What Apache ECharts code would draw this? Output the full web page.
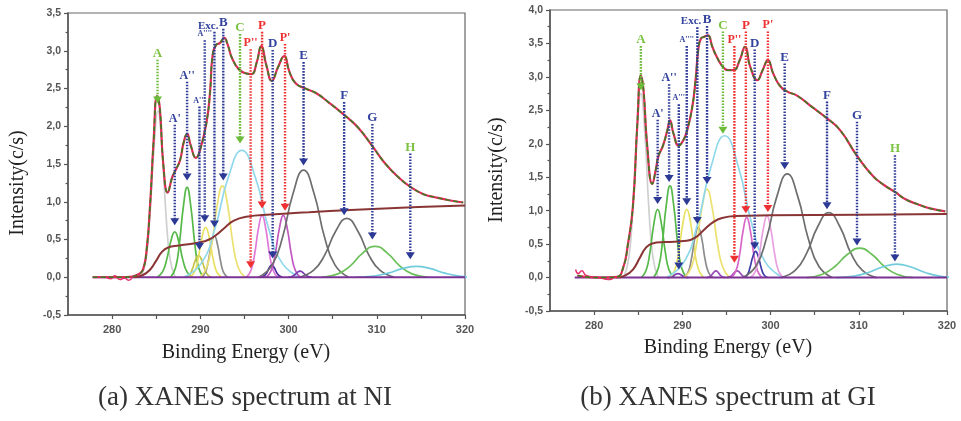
<!DOCTYPE html>
<html>
<head>
<meta charset="utf-8">
<script src="https://cdn.jsdelivr.net/npm/echarts@6.0.0/dist/echarts.min.js"></script>
<style>
  html, body { margin: 0; padding: 0; background: #fff; }
  #chart { width: 961px; height: 421px; }
</style>
</head>
<body>
<div id="chart"></div>
<script>
// axis ticks
const xTicks = [280, 285, 290, 295, 300, 305, 310, 315, 320];
const xLabels = [280, 290, 300, 310, 320];

// ---- (a) NI : measured spectrum, background step, noise
const niSpectrum = [[277.8,0],[279,0],[281,0],[282.3,0.01],[283,0.04],[283.5,0.1],[283.9,0.35],[284.3,0.95],[284.7,1.8],[285.1,2.4],[285.4,2.25],[285.8,1.5],[286.3,1.12],[286.8,1.32],[287.2,1.42],[287.7,1.55],[288.1,1.78],[288.5,1.9],[288.9,1.75],[289.5,1.58],[290.0,1.7],[290.7,2.05],[291.1,2.45],[291.4,2.95],[291.8,3.08],[292.2,3.1],[292.7,3.17],[293.1,3.08],[293.6,2.9],[294.4,2.75],[295.2,2.7],[295.8,2.69],[296.4,2.85],[296.9,3.06],[297.5,2.8],[298.1,2.6],[298.8,2.78],[299.5,2.93],[300.1,2.72],[300.8,2.57],[301.9,2.5],[303.1,2.44],[304.5,2.32],[306.4,2.14],[307.9,1.98],[309.6,1.72],[311.0,1.5],[312.5,1.32],[313.9,1.19],[315.3,1.1],[316.6,1.06],[318.2,1.02],[319.8,0.99]];
const niNoise = [[279.2,0.01],[279.8,-0.02],[280.3,0.02],[280.9,-0.03],[281.4,-0.01],[281.9,-0.04],[282.3,0]];
const niStep = [[282.5,0],[283.5,0.03],[284.3,0.1],[285.0,0.22],[285.6,0.33],[286.3,0.39],[287.6,0.42],[289.9,0.46],[291.0,0.5],[291.8,0.56],[292.8,0.66],[293.8,0.75],[295.2,0.8],[298,0.83],[302.3,0.86],[307,0.89],[314.7,0.93],[320,0.95]];

// (a) NI : fitted components
const niA   = [[283.25,0],[283.84,0.24],[284.29,0.83],[284.75,1.72],[285.2,2.2],[285.65,1.72],[286.11,0.83],[286.57,0.24],[287.15,0]];
const niA1  = [[285.12,0],[285.71,0.07],[286.18,0.23],[286.64,0.47],[287.1,0.6],[287.56,0.47],[288.02,0.23],[288.49,0.07],[289.08,0]];
const niA2  = [[286.64,0],[287.2,0.13],[287.63,0.45],[288.07,0.93],[288.5,1.19],[288.93,0.93],[289.37,0.45],[289.8,0.13],[290.36,0]];
const niA3  = [[288.3,0],[288.75,0.03],[289.1,0.11],[289.45,0.23],[289.8,0.29],[290.15,0.23],[290.5,0.11],[290.85,0.03],[291.3,0]];
const niA4  = [[288.8,0],[289.34,0.07],[289.76,0.25],[290.18,0.52],[290.6,0.66],[291.02,0.52],[291.44,0.25],[291.86,0.07],[292.4,0]];
const niExc = [[290.1,0],[290.55,0.06],[290.9,0.21],[291.25,0.43],[291.6,0.55],[291.95,0.43],[292.3,0.21],[292.65,0.06],[293.1,0]];
const niB   = [[289.95,0],[290.72,0.13],[291.31,0.45],[291.91,0.95],[292.5,1.21],[293.1,0.95],[293.69,0.45],[294.29,0.13],[295.05,0]];
const niC   = [[288.1,0],[290.08,0.18],[291.62,0.63],[293.16,1.32],[294.7,1.68],[296.24,1.32],[297.78,0.63],[299.32,0.18],[301.3,0]];
const niP   = [[295.2,0],[295.74,0.09],[296.16,0.31],[296.58,0.64],[297.0,0.82],[297.42,0.64],[297.84,0.31],[298.26,0.09],[298.8,0]];
const niD   = [[296.9,0],[297.26,0.02],[297.54,0.06],[297.82,0.125],[298.1,0.16],[298.38,0.125],[298.66,0.06],[298.94,0.02],[299.3,0]];
const niP1  = [[297.45,0],[298.04,0.09],[298.49,0.31],[298.95,0.64],[299.4,0.82],[299.86,0.64],[300.31,0.31],[300.77,0.09],[301.35,0]];
const niS1  = [[299.95,0],[300.36,0.01],[300.67,0.03],[300.99,0.063],[301.3,0.08],[301.61,0.063],[301.93,0.03],[302.24,0.01],[302.65,0]];
const niE   = [[296.6,0],[298.13,0.16],[299.32,0.53],[300.51,1.11],[301.7,1.42],[302.89,1.11],[304.08,0.53],[305.27,0.16],[306.8,0]];
const niF   = [[301.2,0],[302.82,0.09],[304.08,0.29],[305.34,0.61],[306.6,0.78],[307.86,0.61],[309.12,0.29],[310.38,0.09],[312.0,0]];
const niG   = [[303.8,0],[305.6,0.045],[307.0,0.15],[308.4,0.32],[309.8,0.41],[311.2,0.32],[312.6,0.15],[314.0,0.045],[315.8,0]];
const niH   = [[307.6,0],[309.67,0.016],[311.28,0.054],[312.89,0.114],[314.5,0.145],[316.11,0.114],[317.72,0.054],[319.33,0.016],[321.4,0]];

// (a) NI : arrows [label, energy, label level, arrow tip]
const niArrows = [['A',285.15,2.96,2.3],["A'",287.1,2.1,0.69],["A''",288.5,2.67,1.28],["A'''",289.9,2.34,0.36],["A''''",290.5,3.22,0.73],['Exc.',291.6,3.33,0.66],['B',292.6,3.37,1.28],['C',294.5,3.3,1.77],["P''",295.7,3.1,0.12],['P',297.0,3.33,0.91],['D',298.2,3.09,0.25],["P'",299.6,3.17,0.88],['E',301.7,2.93,1.48],['F',306.3,2.4,0.82],['G',309.5,2.11,0.5],['H',313.8,1.72,0.24]];

// ---- (b) GI
const giSpectrum = [[278.1,0.03],[279,0.01],[281,0],[282.6,0.01],[283.3,0.15],[283.8,0.47],[284.4,1.07],[284.9,2.3],[285.3,3.02],[285.6,2.8],[286.0,2.0],[286.6,1.4],[287.0,1.62],[287.3,1.82],[287.8,1.97],[288.3,2.2],[288.6,2.35],[289.0,2.15],[289.6,1.97],[290.1,2.05],[290.5,2.18],[291.1,2.53],[291.5,2.95],[291.8,3.4],[292.1,3.57],[292.5,3.6],[292.9,3.62],[293.4,3.45],[293.9,3.3],[294.6,3.15],[295.2,3.1],[295.8,3.1],[296.5,3.25],[297.1,3.45],[297.7,3.15],[298.5,2.95],[299.1,3.1],[299.7,3.25],[300.3,3.05],[301.1,2.86],[301.9,2.78],[303.0,2.72],[304.7,2.55],[306.4,2.38],[307.9,2.2],[309.8,1.82],[311.6,1.52],[312.9,1.38],[314.1,1.28],[315.3,1.17],[316.6,1.1],[318.2,1.03],[319.8,0.99]];
const giNoise = [[277.9,0.12],[278.2,0.06],[278.6,0.1],[279.1,0.03],[280.5,0],[281.2,-0.02],[281.8,-0.03],[282.2,0]];
const giStep = [[282.5,0],[283.5,0.03],[284.4,0.12],[285.2,0.3],[285.9,0.45],[286.6,0.51],[288,0.53],[290.5,0.55],[291.5,0.6],[292.5,0.72],[293.5,0.83],[294.5,0.89],[296,0.92],[300,0.93],[310,0.94],[320,0.95]];

const giA   = [[283.35,0],[283.94,0.3],[284.39,1.03],[284.85,2.15],[285.3,2.75],[285.75,2.15],[286.21,1.03],[286.67,0.3],[287.25,0]];
const giA1  = [[285.34,0],[285.9,0.11],[286.33,0.38],[286.77,0.8],[287.2,1.02],[287.63,0.8],[288.07,0.38],[288.5,0.11],[289.06,0]];
const giA2  = [[286.74,0],[287.3,0.15],[287.73,0.51],[288.17,1.07],[288.6,1.37],[289.03,1.07],[289.47,0.51],[289.9,0.15],[290.46,0]];
const giA3  = [[288.3,0],[288.66,0.007],[288.94,0.023],[289.22,0.047],[289.5,0.06],[289.78,0.047],[290.06,0.023],[290.34,0.007],[290.7,0]];
const giA4  = [[288.55,0],[289.14,0.11],[289.59,0.38],[290.05,0.8],[290.5,1.02],[290.96,0.8],[291.41,0.38],[291.87,0.11],[292.45,0]];
const giExc = [[290.15,0],[290.65,0.08],[291.03,0.28],[291.42,0.59],[291.8,0.75],[292.19,0.59],[292.57,0.28],[292.96,0.08],[293.45,0]];
const giB   = [[290.25,0],[291.02,0.15],[291.61,0.5],[292.21,1.03],[292.8,1.32],[293.4,1.03],[293.99,0.5],[294.59,0.15],[295.35,0]];
const giC   = [[288.2,0],[290.18,0.23],[291.72,0.8],[293.26,1.66],[294.8,2.12],[296.34,1.66],[297.88,0.8],[299.42,0.23],[301.4,0]];
const giS1  = [[292.75,0],[293.07,0.011],[293.31,0.037],[293.56,0.078],[293.8,0.1],[294.05,0.078],[294.29,0.037],[294.54,0.011],[294.85,0]];
const giS2  = [[295.0,0],[295.36,0.011],[295.64,0.037],[295.92,0.078],[296.2,0.1],[296.48,0.078],[296.76,0.037],[297.04,0.011],[297.4,0]];
const giP   = [[295.56,0],[296.08,0.1],[296.49,0.34],[296.89,0.7],[297.3,0.9],[297.71,0.7],[298.11,0.34],[298.52,0.1],[299.04,0]];
const giD   = [[296.95,0],[297.36,0.04],[297.67,0.15],[297.99,0.31],[298.3,0.39],[298.62,0.31],[298.93,0.15],[299.25,0.04],[299.65,0]];
const giP1  = [[297.74,0],[298.3,0.1],[298.73,0.35],[299.17,0.72],[299.6,0.92],[300.03,0.72],[300.47,0.35],[300.9,0.1],[301.46,0]];
const giE   = [[296.8,0],[298.33,0.17],[299.52,0.58],[300.71,1.21],[301.9,1.55],[303.09,1.21],[304.28,0.58],[305.47,0.17],[307.0,0]];
const giF   = [[301.2,0],[302.82,0.11],[304.08,0.36],[305.34,0.76],[306.6,0.97],[307.86,0.76],[309.12,0.36],[310.38,0.11],[312.0,0]];
const giG   = [[304.1,0],[305.9,0.05],[307.3,0.165],[308.7,0.345],[310.1,0.44],[311.5,0.345],[312.9,0.165],[314.3,0.05],[316.1,0]];
const giH   = [[307.4,0],[309.47,0.022],[311.08,0.075],[312.69,0.157],[314.3,0.2],[315.91,0.157],[317.52,0.075],[319.13,0.022],[321.2,0]];

const giArrows = [['A',285.3,3.55,2.8],["A'",287.2,2.45,1.1],["A''",288.5,2.98,1.43],["A'''",289.6,2.68,0.12],["A''''",290.5,3.55,1.08],['Exc.',291.7,3.83,0.8],['B',292.8,3.85,1.4],['C',294.6,3.77,2.15],["P''",295.9,3.55,0.22],['P',297.2,3.77,0.96],['D',298.2,3.5,0.42],["P'",299.7,3.77,0.98],['E',301.6,3.29,1.62],['F',306.4,2.72,1.02],['G',309.8,2.42,0.48],['H',314.1,1.92,0.24]];

const baseline = [[277.8,0],[320,0]];

const chart = echarts.init(document.getElementById('chart'));

function curve(data, color, idx, width, z) {
  return {
    type: 'line', xAxisIndex: idx, yAxisIndex: idx, data: data,
    symbol: 'none', smooth: 0.5, silent: true, z: z || 2,
    lineStyle: { color: color, width: width || 1.5 }
  };
}

// arrow colours
const green = '#6dbb3a', red = '#ee3030', blue = '#2c3a96';
function lineColor(n) {
  if (n === 'A' || n === 'C') return green;
  if (n[0] === 'P') return red;
  return blue;
}
function textColor(n) {
  if (n === 'A' || n === 'C' || n === 'H') return '#7cc243';
  if (n[0] === 'P') return red;
  return '#34449e';
}
function textFont(n) {
  if (n === "A'''" || n === "A''''") return 'bold 8px "Liberation Serif"';
  if (n === 'Exc.') return 'bold 11px "Liberation Serif"';
  if (n.length > 1) return 'bold 12px "Liberation Serif"';
  return 'bold 13px "Liberation Serif"';
}

function arrows(list, idx) {
  return {
    type: 'custom', xAxisIndex: idx, yAxisIndex: idx, z: 10, silent: true, clip: false,
    data: list.map(a => [a[1], a[2], a[3]]),
    renderItem: function (params, api) {
      const n = list[params.dataIndex][0];
      const top = api.coord([api.value(0), api.value(1)]);
      const tip = api.coord([api.value(0), api.value(2)]);
      const x = top[0];
      const lc = lineColor(n);
      const isExc = n === 'Exc.';
      return {
        type: 'group',
        children: [
          { type: 'line', shape: { x1: x, y1: top[1] + 6, x2: x, y2: tip[1] - 6 },
            style: { stroke: lc, lineWidth: 2.4, lineDash: [1.6, 1.4] } },
          { type: 'polygon', shape: { points: [[x - 4.5, tip[1] - 7], [x + 4.5, tip[1] - 7], [x, tip[1]]] },
            style: { fill: lc } },
          { type: 'text',
            style: { text: n, x: isExc ? x + 4 : x, y: top[1], font: textFont(n), fill: textColor(n),
              align: isExc ? 'right' : 'center', verticalAlign: 'middle',
              textAlign: isExc ? 'right' : 'center', textVerticalAlign: 'middle' } }
        ]
      };
    }
  };
}

function panelSeries(idx, spec, noise, step, comps) {
  const s = comps.map(c => curve(c[0], c[1], idx, 1.7, 2));
  s.push(curve(baseline, '#7b3294', idx, 2, 3));
  s.push(curve(step, '#8a3535', idx, 2, 4));
  s.push(curve(noise, '#e8306e', idx, 1.5, 5));
  s.push(curve(spec, '#e02a5a', idx, 2.2, 5));
  const fit = curve(spec, '#3f7d22', idx, 1.6, 6);
  fit.lineStyle.type = [5, 3];
  s.push(fit);
  return s;
}

const gray = '#555';
function xAxis(idx) {
  return {
    type: 'value', gridIndex: idx, min: 275, max: 320,
    axisLine: { show: true, onZero: false, lineStyle: { color: gray, width: 1.5 } },
    axisTick: { show: true, customValues: xTicks, length: 4, lineStyle: { color: gray, width: 1.2 } },
    axisLabel: { customValues: xLabels, color: '#555', fontSize: 11, fontWeight: 'bold',
      fontFamily: '"Liberation Sans", Arial', margin: 9 },
    splitLine: { show: false }
  };
}
function yAxis(idx, max) {
  return {
    type: 'value', gridIndex: idx, min: -0.5, max: max, interval: 0.5,
    axisLine: { show: true, onZero: false, lineStyle: { color: gray, width: 1.5 } },
    axisTick: { show: true, length: 4, lineStyle: { color: gray, width: 1.2 } },
    minorTick: { show: true, splitNumber: 2, length: 2.5, lineStyle: { color: gray, width: 1.2 } },
    axisLabel: { color: '#555', fontSize: 10.5, fontWeight: 'bold', fontFamily: '"Liberation Sans", Arial',
      margin: 7, formatter: v => v.toFixed(1).replace('.', ',') },
    splitLine: { show: false }
  };
}

const niComps = [[niA,'#cfcfcf'],[niA1,'#55b848'],[niA2,'#55b848'],[niA3,'#c2c24a'],[niA4,'#e8e060'],[niExc,'#8c8c8c'],[niB,'#ece070'],[niC,'#90d8ec'],[niP,'#e07ad8'],[niD,'#4b2c9c'],[niP1,'#c058c0'],[niS1,'#7a3ab0'],[niE,'#6e6e6e'],[niF,'#6e6e6e'],[niG,'#6cc05a'],[niH,'#70ccdc']];
const giComps = [[giA,'#cfcfcf'],[giA1,'#55b848'],[giA2,'#55b848'],[giA3,'#7a3ab0'],[giA4,'#e8e060'],[giExc,'#8c8c8c'],[giB,'#ece070'],[giC,'#90d8ec'],[giS1,'#9a4ab8'],[giS2,'#9a4ab8'],[giP,'#d868c8'],[giD,'#3c3ca8'],[giP1,'#e8a0e0'],[giE,'#6e6e6e'],[giF,'#6e6e6e'],[giG,'#6cc05a'],[giH,'#70ccdc']];

const serif = '"Liberation Serif", "Times New Roman", serif';
function txt(text, x, y, size, rot, color) {
  return { type: 'text', x: x, y: y, rotation: rot || 0, silent: true,
    style: { text: text, font: size + 'px ' + serif, fill: color || '#222',
      align: 'center', verticalAlign: 'middle', textAlign: 'center', textVerticalAlign: 'middle' } };
}

chart.setOption({
  animation: false,
  backgroundColor: '#fff',
  grid: [
    { left: 68, top: 13, width: 397, height: 302, show: true, borderColor: '#666', borderWidth: 1.2 },
    { left: 550, top: 10, width: 397, height: 301, show: true, borderColor: '#666', borderWidth: 1.2 }
  ],
  xAxis: [xAxis(0), xAxis(1)],
  yAxis: [yAxis(0, 3.5), yAxis(1, 4)],
  series: [].concat(
    panelSeries(0, niSpectrum, niNoise, niStep, niComps),
    [arrows(niArrows, 0)],
    panelSeries(1, giSpectrum, giNoise, giStep, giComps),
    [arrows(giArrows, 1)]
  ),
  graphic: [
    txt('Intensity(c/s)', 18, 183, 20, Math.PI / 2),
    txt('Intensity(c/s)', 497, 170, 20, Math.PI / 2),
    txt('Binding Energy (eV)', 246, 353, 20),
    txt('Binding Energy (eV)', 728, 348, 20),
    txt('(a) XANES spectrum at NI', 245, 398, 27, 0, '#333'),
    txt('(b) XANES spectrum at GI', 728, 398, 27, 0, '#333')
  ]
});
</script>
</body>
</html>
